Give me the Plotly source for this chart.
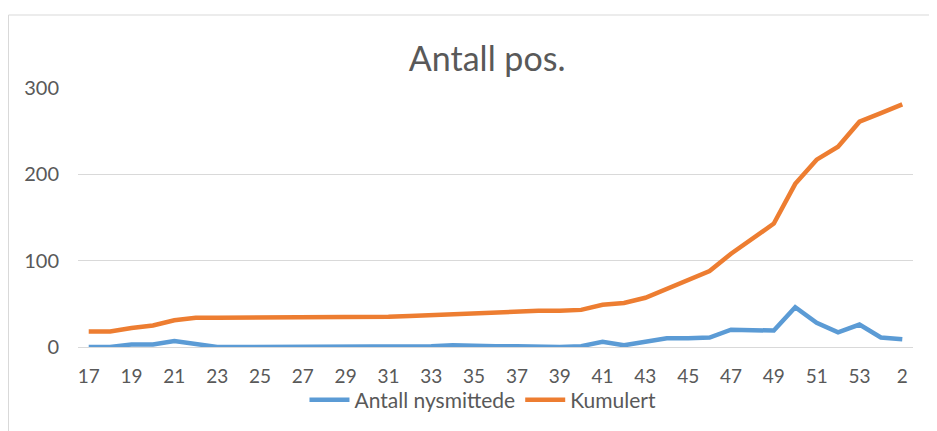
import plotly.graph_objects as go

weeks = [str(w) for w in range(17, 54)] + ["1", "2"]
nysmittede = [0, 0, 3, 3, 7, 3, 0, 0, 0, 1, 0, 0, 0, 0, 0, 1, 1, 2, 1, 1, 1, 0, 0, 1,
              6, 2, 6, 10, 10, 11, 20, 19, 19, 46, 28, 17, 26, 11, 9]
kumulert = [18, 18, 22, 25, 31, 34, 34, 34, 34, 35, 35, 35, 35, 35, 35, 36, 37, 39, 40, 41,
            42, 42, 42, 43, 49, 51, 57, 67, 77, 88, 108, 126, 143, 189, 217, 232, 261, 271, 281]
tick_labels = [str(w) for w in range(17, 54, 2)] + ["2"]
y_ticks = [0, 100, 200, 300]

FONT = "Lato, Carlito, Calibri, sans-serif"
GRAY = "#595959"

# page body offset of 8px is compensated in the margins
L, T, R, B = 70, 80, 905, 339
W, H = 937, 431

fig = go.Figure()
fig.add_trace(go.Scatter(x=weeks, y=nysmittede, mode="lines", name="Antall nysmittede",
                         line=dict(color="#5B9BD5", width=4.5)))
fig.add_trace(go.Scatter(x=weeks, y=kumulert, mode="lines", name="Kumulert",
                         line=dict(color="#ED7D31", width=4.5)))

pw, ph = R - L, B - T
fig.update_layout(
    width=W, height=H,
    margin=dict(l=L, r=W - R, t=T, b=H - B),
    paper_bgcolor="white", plot_bgcolor="white",
    font=dict(family=FONT, color=GRAY, size=20),
    title=dict(text="Antall pos.", x=0.49, xref="paper", xanchor="center",
               y=1 - 51 / H, yref="container", yanchor="middle",
               font=dict(size=34, color=GRAY, family=FONT)),
    showlegend=True,
    legend=dict(orientation="h", x=0.485, xanchor="center",
                y=(B - 392) / ph, yanchor="middle",
                font=dict(size=21, color=GRAY), itemwidth=40, tracegroupgap=0,
                bgcolor="rgba(0,0,0,0)"),
    xaxis=dict(type="category", categoryorder="array", categoryarray=weeks,
               tickmode="array", tickvals=tick_labels, ticktext=tick_labels,
               showgrid=False, showline=False, ticks="", zeroline=False,
               tickfont=dict(size=19, color=GRAY), ticklabelstandoff=16,
               range=[-0.5, len(weeks) - 0.5]),
    yaxis=dict(range=[0, 300], tickvals=y_ticks, showgrid=True, gridcolor="#D9D9D9",
               gridwidth=1, zeroline=True, zerolinecolor="#D9D9D9", zerolinewidth=1,
               showline=False, ticks="", tickfont=dict(size=20, color=GRAY),
               ticklabelstandoff=18),
    shapes=[dict(type="rect", xref="paper", yref="paper",
                 x0=(0.5 - L) / pw, x1=(945 - L) / pw,
                 y0=(B - 440) / ph, y1=(B - 7) / ph,
                 line=dict(color="#D9D9D9", width=1), fillcolor="rgba(0,0,0,0)",
                 layer="below")],
)

fig.write_html("out.html")
